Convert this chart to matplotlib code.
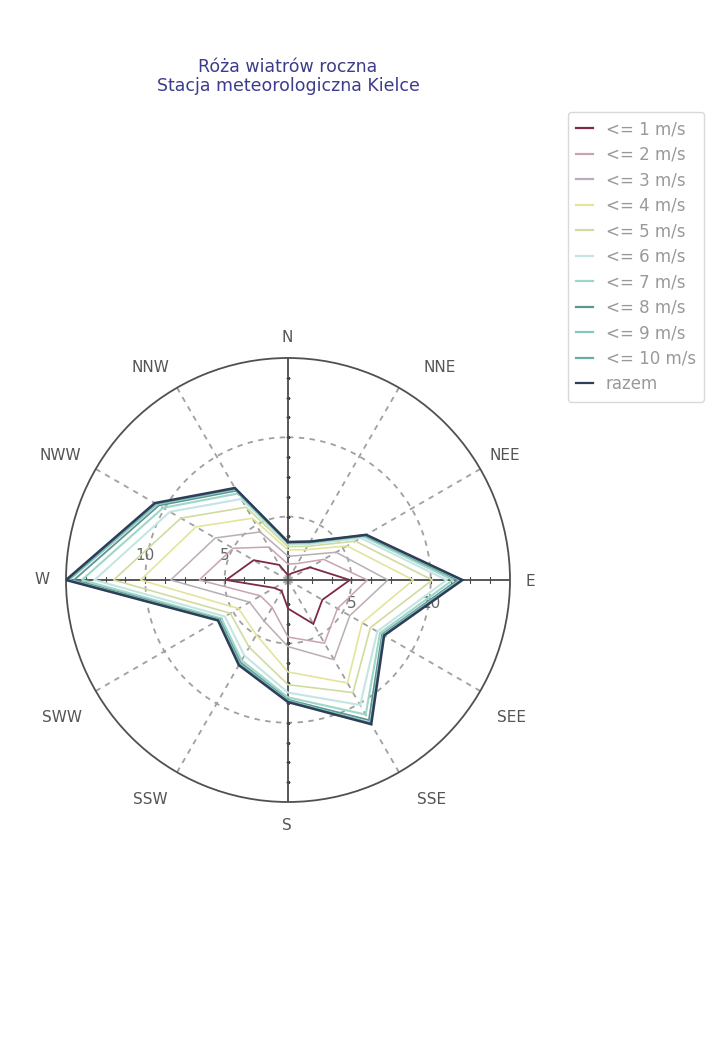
import numpy as np
import matplotlib
matplotlib.use("Agg")
import matplotlib.pyplot as plt
from matplotlib.lines import Line2D

plt.rcParams['font.family'] = ['DejaVu Sans']

# Wind directions (12 sectors, 30 degrees apart, clockwise from north)
directions = ["N", "NNE", "NEE", "E", "SEE", "SSE", "S", "SSW", "SWW", "W", "NWW", "NNW"]
angles_deg = [0, 30, 60, 90, 120, 150, 180, 210, 240, 270, 300, 330]

# Cumulative frequency [%] per direction for each wind-speed class
le1 = [1.3, 1.5, 2.6, 4.9, 3.5, 4.2, 2.8, 1.8, 2.0, 4.9, 3.5, 2.1]
le2 = [2.0, 2.2, 3.6, 6.0, 4.6, 5.6, 4.6, 3.0, 3.0, 6.6, 5.0, 3.4]
le3 = [2.5, 2.8, 4.5, 7.3, 5.5, 6.8, 5.2, 4.0, 3.8, 8.4, 6.3, 4.5]
le4 = [2.9, 3.2, 5.3, 8.9, 6.4, 8.5, 6.8, 5.0, 4.6, 10.3, 7.7, 5.5]
le5 = [3.1, 3.45, 5.9, 10.1, 7.0, 9.2, 7.6, 5.9, 5.2, 12.0, 8.8, 6.3]
le6 = [3.25, 3.6, 6.3, 11.0, 7.5, 10.1, 8.1, 6.5, 5.6, 13.2, 9.6, 6.9]
le7 = [3.32, 3.7, 6.5, 11.4, 7.7, 10.8, 8.4, 6.85, 5.85, 14.0, 10.1, 7.3]
le8 = [3.36, 3.75, 6.6, 11.7, 7.85, 11.2, 8.55, 7.0, 5.97, 14.5, 10.4, 7.5]
le9 = [3.38, 3.78, 6.65, 11.85, 7.92, 11.4, 8.62, 7.1, 6.03, 14.8, 10.55, 7.6]
le10 = [3.39, 3.79, 6.68, 11.95, 7.97, 11.45, 8.67, 7.15, 6.07, 14.9, 10.65, 7.65]
total = [3.4, 3.8, 6.7, 12.0, 8.0, 11.5, 8.7, 7.2, 6.1, 15.0, 10.7, 7.7]

series_labels = ["<= 1 m/s", "<= 2 m/s", "<= 3 m/s", "<= 4 m/s", "<= 5 m/s",
                 "<= 6 m/s", "<= 7 m/s", "<= 8 m/s", "<= 9 m/s", "<= 10 m/s", "razem"]
series_values = [le1, le2, le3, le4, le5, le6, le7, le8, le9, le10, total]
series_colors = ["#7d2a4a", "#c9a3b0", "#b9adb8", "#e4e49c", "#cfdca0",
                 "#c4e6e2", "#9ed6ca", "#5f9590", "#86c8bf", "#6aaca8", "#2e3d58"]
series_widths = [1.3, 1.1, 1.1, 1.2, 1.2, 1.5, 1.5, 1.3, 1.5, 1.4, 1.8]

r_min, r_max = 1, 15
ring_values = [5, 10]
axis_tick_step = 1.25

# figure geometry (pixels)
W_PX, H_PX = 728, 1055
CX, CY, RAD = 288, 580, 222

fig = plt.figure(figsize=(W_PX / 100, H_PX / 100), dpi=100)
fig.patch.set_facecolor("white")

ax = fig.add_axes([(CX - RAD) / W_PX, 1 - (CY + RAD) / H_PX, 2 * RAD / W_PX, 2 * RAD / H_PX],
                  projection="polar")
ax.set_theta_zero_location("N")
ax.set_theta_direction(-1)
ax.set_ylim(r_min, r_max)
ax.grid(False)
ax.set_xticks([])
ax.set_yticks([])
ax.spines["polar"].set_color("#505050")
ax.spines["polar"].set_linewidth(1.3)

theta_full = np.linspace(0, 2 * np.pi, 361)
# dashed reference rings
for rv in ring_values:
    ax.plot(theta_full, np.full_like(theta_full, rv), color="#a0a0a0",
            lw=1.3, ls=(0, (3, 3)), zorder=1)

# radial guide lines: solid for cardinal, dashed for the rest
for name, a in zip(directions, angles_deg):
    t = np.deg2rad(a)
    if name in ("N", "E", "S", "W"):
        ax.plot([t, t], [r_min, r_max], color="#4a4a4a", lw=1.3, zorder=2)
        ticks = np.arange(2.5, r_max, axis_tick_step)
        vertical_axis = name in ("N", "S")
        ax.plot(np.full_like(ticks, t), ticks, ls="none",
                marker="_" if vertical_axis else "|",
                ms=3 if vertical_axis else 4, mew=0.8, color="#4a4a4a", zorder=2)
    else:
        ax.plot([t, t], [r_min, r_max], color="#a0a0a0", lw=1.3,
                ls=(0, (3, 3)), zorder=1)

# radial value labels along the E-W axis
for rv in ring_values:
    for a, dy in ((90, -24), (270, 24)):
        ax.annotate(str(rv), xy=(np.deg2rad(a), rv), xytext=(0, dy),
                    textcoords="offset pixels",
                    ha="center", va="center", fontsize=11, color="#666666", zorder=1)

# direction labels around the circle (pixel offsets from the centre)
label_offsets = {"N": (-1, -242), "NNE": (152, -212), "NEE": (217, -125),
                 "E": (242, 2), "SEE": (224, 137), "SSE": (144, 220),
                 "S": (-1, 246), "SSW": (-138, 220), "SWW": (-226, 137),
                 "W": (-246, 0), "NWW": (-228, -125), "NNW": (-138, -212)}
for name in directions:
    dx, dy = label_offsets[name]
    ax.text(0.5 + dx / (2 * RAD), 0.5 - dy / (2 * RAD), name, transform=ax.transAxes,
            ha="center", va="center", fontsize=11, color="#555555", clip_on=False)

# wind rose polygons
theta = np.deg2rad(angles_deg + [angles_deg[0]])
handles = []
for lab, vals, col, lw in zip(series_labels, series_values, series_colors, series_widths):
    closed = list(vals) + [vals[0]]
    ax.plot(theta, closed, color=col, lw=lw, zorder=3, solid_joinstyle="miter")
    handles.append(Line2D([0], [0], color=col, lw=1.6))

fig.text(CX / W_PX, 1 - 58 / H_PX, "Róża wiatrów roczna\nStacja meteorologiczna Kielce",
         ha="center", va="top", fontsize=12.5, color="#3c3c8c", linespacing=1.05)

leg = fig.legend(handles, series_labels, loc="upper left",
                 bbox_to_anchor=(568 / W_PX, 1 - 112 / H_PX),
                 fontsize=12, labelcolor="#999999", frameon=True, fancybox=True,
                 edgecolor="#d0d0d0", handlelength=1.0, handletextpad=0.75,
                 labelspacing=0.45, borderpad=0.5, borderaxespad=0)
leg.get_frame().set_linewidth(1.0)

fig.savefig("out.png", dpi=100, facecolor="white")
